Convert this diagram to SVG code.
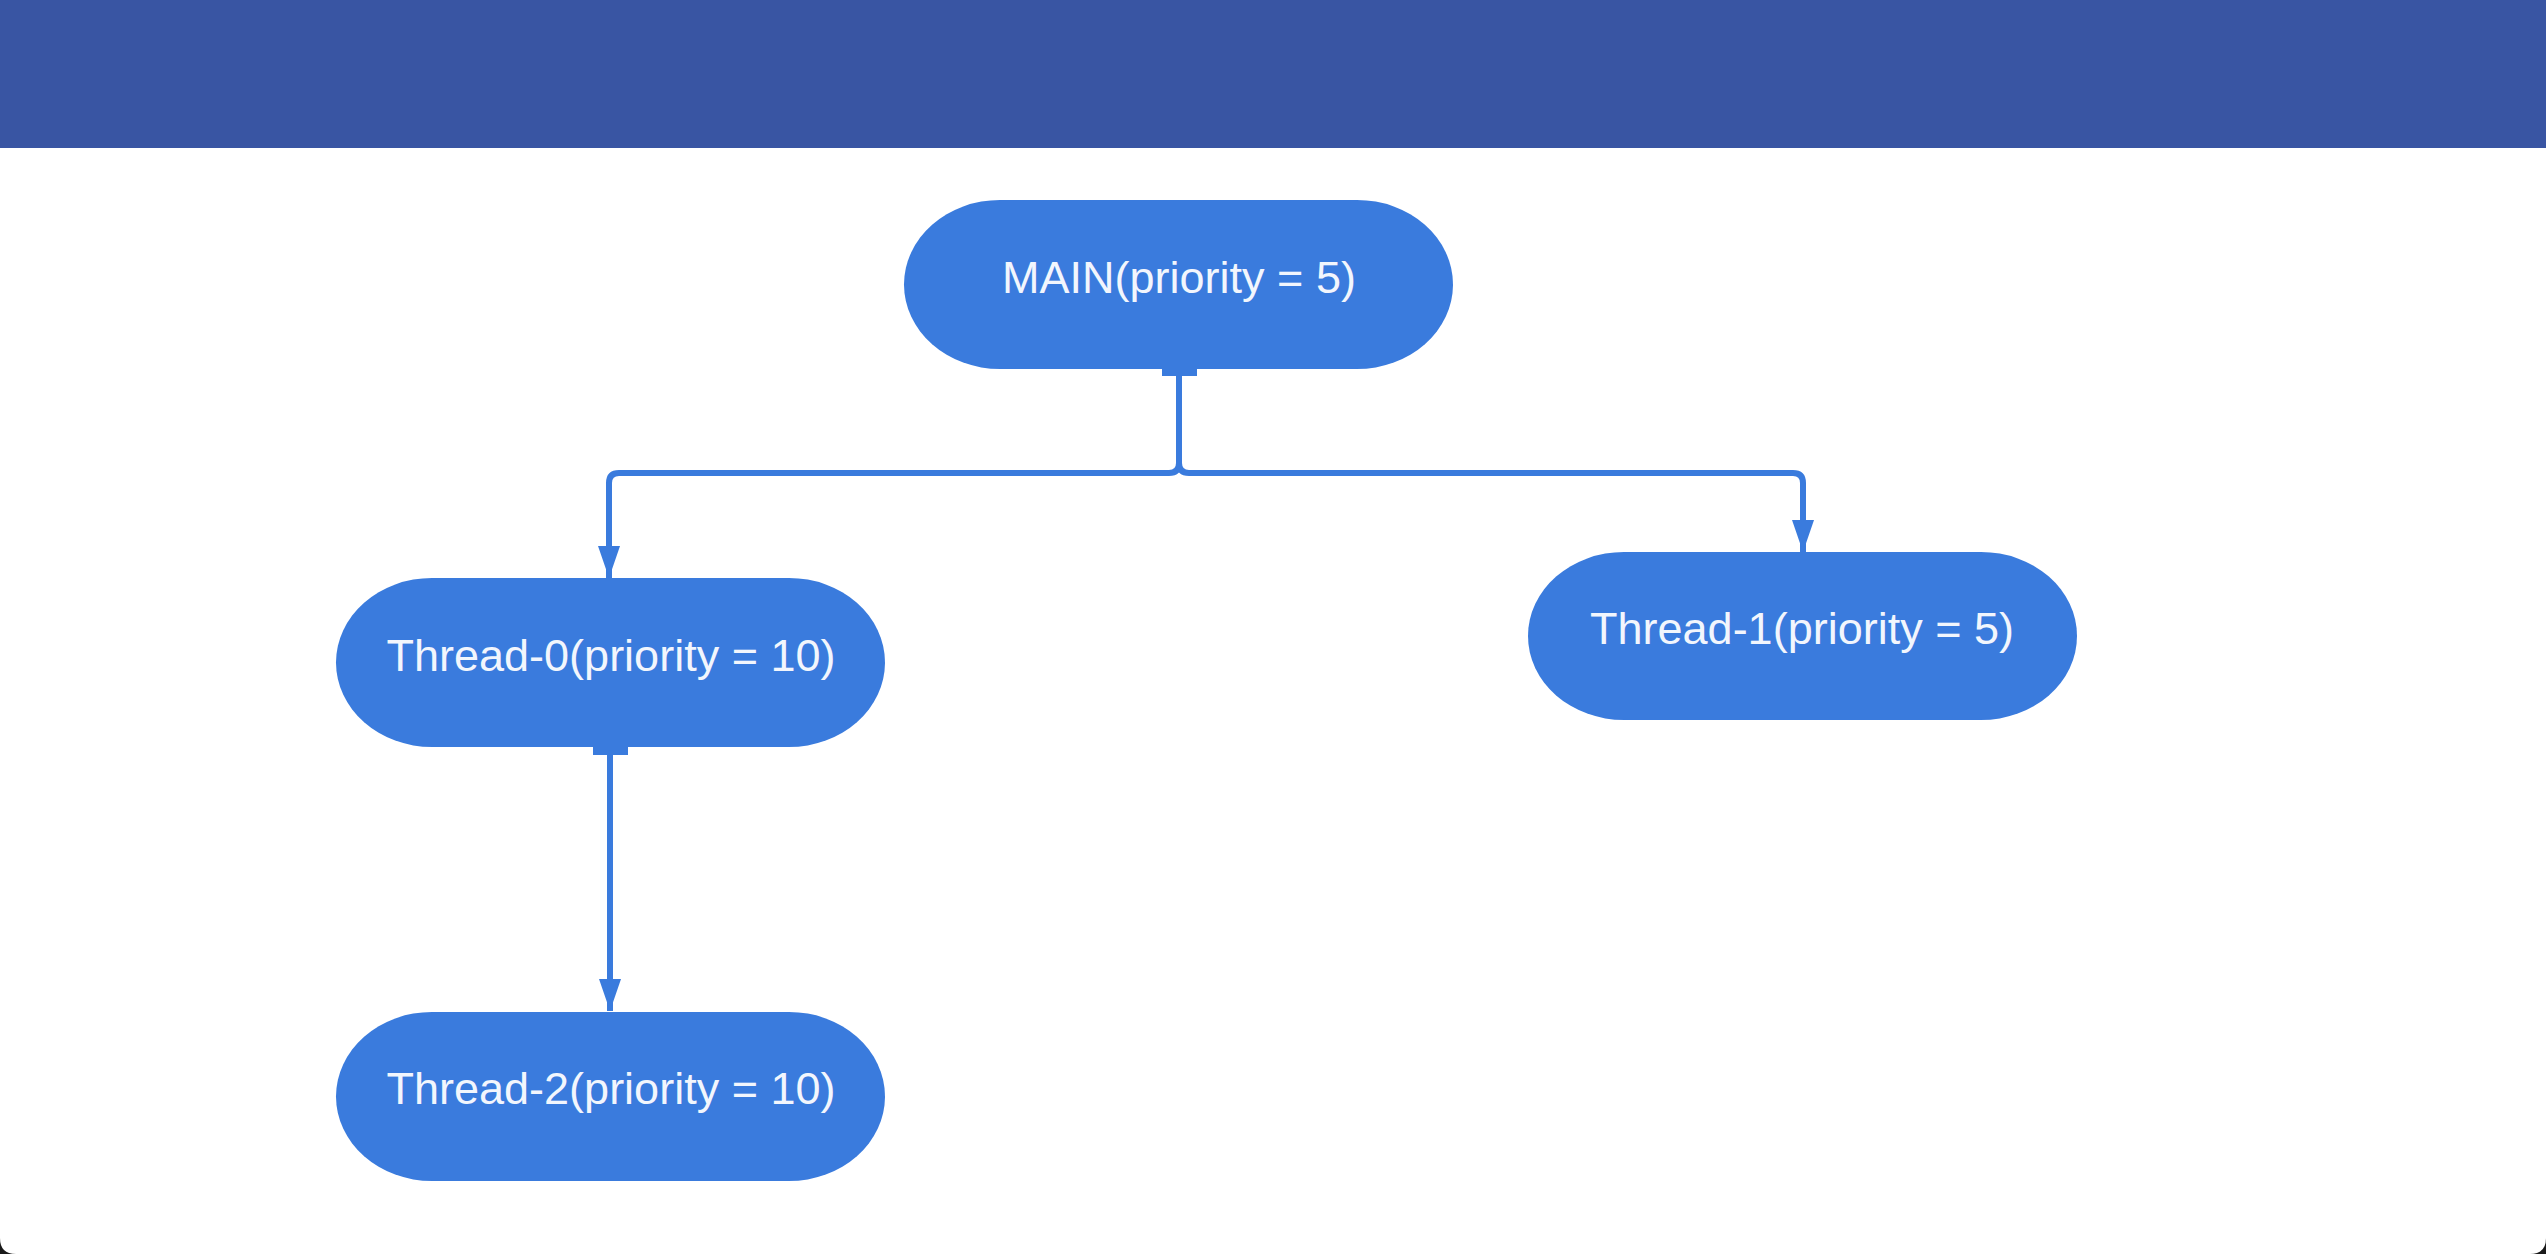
<svg xmlns="http://www.w3.org/2000/svg" width="2546" height="1254" viewBox="0 0 2546 1254">
<defs>
<style>
.node{fill:#3A7BDD;}
.lbl{font-family:"Liberation Sans",Arial,sans-serif;font-size:45px;fill:#F2F6FD;text-anchor:middle;}
.conn{fill:none;stroke:#3A7BDD;stroke-width:6;stroke-linejoin:round;}
.bar{fill:#3A7BDD;}
</style>
<marker id="arr" viewBox="0 0 32 22" refX="32" refY="11" markerWidth="32" markerHeight="22" markerUnits="userSpaceOnUse" orient="auto">
<path d="M0,0 L32,11 L0,22 Z" fill="#3A7BDD"/>
</marker>
</defs>
<rect x="0" y="0" width="2546" height="1254" fill="#1a1a1a"/>
<path d="M0,0 H2546 V1238 Q2546,1254 2530,1254 H16 Q0,1254 0,1238 Z" fill="#FFFFFF"/>
<rect id="header" x="0" y="0" width="2546" height="148" fill="#3955A3"/>
<g id="connectors">
<path class="conn" d="M1179,376 V463 Q1179,473 1169,473 H619 Q609,473 609,483 V578" marker-end="url(#arr)"/>
<path class="conn" d="M1179,463 Q1179,473 1189,473 H1793 Q1803,473 1803,483 V552" marker-end="url(#arr)"/>
<path class="conn" d="M610,755 V1011" marker-end="url(#arr)"/>
<rect class="bar" x="1162" y="368" width="35" height="8"/>
<rect class="bar" x="593" y="747" width="35" height="8"/>
</g>
<g id="main">
<rect class="node" x="904" y="200" width="549" height="169" rx="96" ry="84.5"/>
<text class="lbl" x="1179" y="293">MAIN(priority = 5)</text>
</g>
<g id="thread0">
<rect class="node" x="336" y="578" width="549" height="169" rx="96" ry="84.5"/>
<text class="lbl" x="611" y="671">Thread-0(priority = 10)</text>
</g>
<g id="thread1">
<rect class="node" x="1528" y="552" width="549" height="168" rx="96" ry="84"/>
<text class="lbl" x="1802" y="644">Thread-1(priority = 5)</text>
</g>
<g id="thread2">
<rect class="node" x="336" y="1012" width="549" height="169" rx="96" ry="84.5"/>
<text class="lbl" x="611" y="1104">Thread-2(priority = 10)</text>
</g>
</svg>
